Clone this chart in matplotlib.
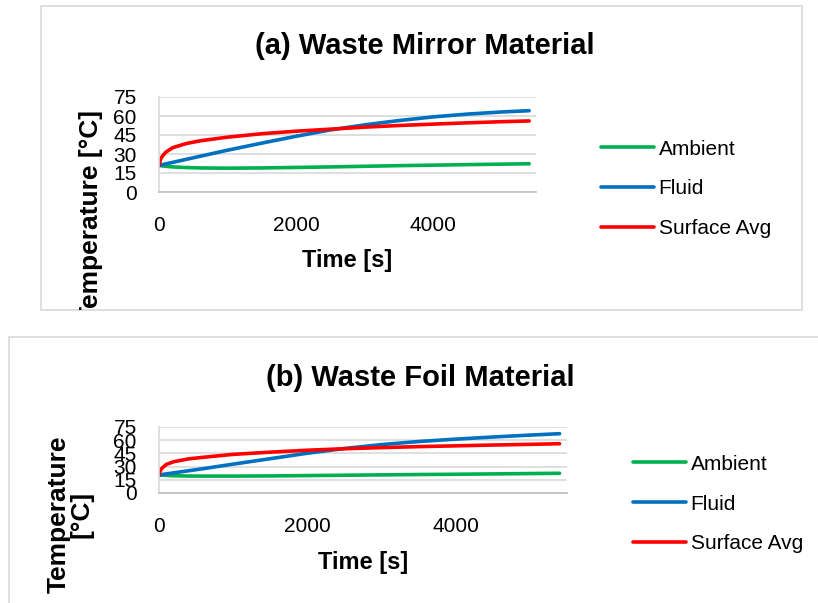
import matplotlib
matplotlib.use("Agg")
import matplotlib.pyplot as plt
from matplotlib.patches import Rectangle
from matplotlib.transforms import Bbox, TransformedBbox

# time axis [s]
t = [0, 10, 25, 50, 100, 200, 400, 600, 1000, 1500, 2000, 2500, 3000, 3500, 4000, 4500, 5000, 5400]

# (a) waste mirror material
amb_a = [21.0, 20.9, 20.8, 20.6, 20.3, 19.8, 19.3, 19.0, 18.8, 19.0, 19.4, 19.8, 20.3, 20.8, 21.2, 21.6, 22.0, 22.3]
fluid_a = [21.0, 21.1, 21.3, 21.6, 22.2, 23.4, 25.8, 28.2, 33.0, 38.6, 44.0, 49.0, 53.0, 56.4, 59.3, 61.5, 63.2, 64.2]
surf_a = [21.0, 23.5, 26.0, 28.3, 31.5, 35.0, 38.3, 40.4, 43.3, 46.0, 48.0, 49.6, 51.2, 52.5, 53.6, 54.6, 55.5, 56.1]

# (b) waste foil material
amb_b = [20.5, 20.4, 20.3, 20.2, 20.0, 19.6, 19.3, 19.2, 19.2, 19.4, 19.8, 20.2, 20.6, 21.0, 21.3, 21.7, 22.1, 22.4]
fluid_b = [20.5, 20.6, 20.8, 21.1, 21.7, 22.9, 25.3, 27.7, 32.8, 39.0, 45.2, 50.6, 55.0, 58.5, 61.2, 63.6, 65.8, 67.4]
surf_b = [20.5, 23.5, 26.5, 29.0, 32.5, 35.6, 38.8, 40.6, 43.9, 46.4, 48.6, 50.3, 51.6, 52.7, 53.6, 54.5, 55.3, 56.0]

labels = ["Ambient", "Fluid", "Surface Avg"]
colors = ["#00B050", "#0070C0", "#FF0000"]
yticks = [0, 15, 30, 45, 60, 75]
xticks = [0, 2000, 4000]

W, H = 818, 603
fig = plt.figure(figsize=(W / 100, H / 100), dpi=100)


def px(x0, y0, x1, y1):
    # pixel box (top-left origin) -> figure rect
    return [x0 / W, 1 - y1 / H, (x1 - x0) / W, (y1 - y0) / H]


def panel(rect, box, series, title, title_xy, ylabel, ylab_xy, xlab_y, leg_xy, ylab_clip=None):
    # chart border
    bx0, by0, bx1, by1 = box
    fig.patches.append(Rectangle((bx0 / W, 1 - by1 / H), (bx1 - bx0) / W, (by1 - by0) / H,
                                 transform=fig.transFigure, fill=False,
                                 edgecolor="#D9D9D9", lw=1.2))
    ax = fig.add_axes(rect)
    for s, lab, c in zip(series, labels, colors):
        ax.plot(t, s, color=c, lw=2.6, label=lab, solid_capstyle="round")
    ax.set_xlim(0, 5500)
    ax.set_ylim(0, 75)
    ax.set_yticks(yticks)
    ax.set_xticks(xticks)
    ax.grid(axis="y", color="#D9D9D9", lw=1.2)
    ax.set_axisbelow(True)
    for sp in ["top", "right"]:
        ax.spines[sp].set_visible(False)
    ax.spines["left"].set_color("#D9D9D9")
    ax.spines["bottom"].set_color("#BFBFBF")
    ax.spines["left"].set_linewidth(1.2)
    ax.spines["bottom"].set_linewidth(1.2)
    ax.tick_params(axis="both", length=0, labelsize=15)
    ax.tick_params(axis="x", pad=17)
    ax.tick_params(axis="y", pad=16)
    for lb in ax.get_xticklabels() + ax.get_yticklabels():
        lb.set_fontfamily("Liberation Sans")

    fig.text(title_xy[0] / W, 1 - title_xy[1] / H, title, ha="center", va="center",
             fontsize=21, fontweight="bold", family="Liberation Sans")

    ax.set_xlabel("Time [s]", fontsize=17, fontweight="bold", family="Liberation Sans")
    ax.xaxis.set_label_coords(0.5, xlab_y)
    ax.xaxis.label.set_va("center")

    yl = fig.text(ylab_xy[0] / W, 1 - ylab_xy[1] / H, ylabel, rotation=90,
                  ha="center", va="center", ma="center", fontsize=19,
                  fontweight="bold", family="Liberation Sans", linespacing=0.95)
    if ylab_clip is not None:
        yl.set_clip_on(True)
        yl.set_clip_box(TransformedBbox(Bbox.from_extents(*ylab_clip), fig.transFigure))

    ax.legend(loc="center left", bbox_to_anchor=(leg_xy[0] / W, 1 - leg_xy[1] / H),
              bbox_transform=fig.transFigure, frameon=False,
              prop={"family": "Liberation Sans", "size": 15},
              handlelength=2.55, handletextpad=0.22, labelspacing=1.0,
              borderpad=0, borderaxespad=0)
    return ax


panel(px(159, 97, 536, 192), (41, 6, 802, 310),
      [amb_a, fluid_a, surf_a], "(a) Waste Mirror Material", (425, 46),
      "Temperature [°C]", (91, 216), (192 - 260) / 95, (601, 189),
      ylab_clip=(41 / W, 1 - 310 / H, 802 / W, 1 - 6 / H))

panel(px(159, 427, 567, 493), (9, 337, 830, 620),
      [amb_b, fluid_b, surf_b], "(b) Waste Foil Material", (420, 378),
      "Temperature\n[°C]", (70, 514), (493 - 562) / 66, (633, 504))

fig.savefig("out.png", dpi=100)
